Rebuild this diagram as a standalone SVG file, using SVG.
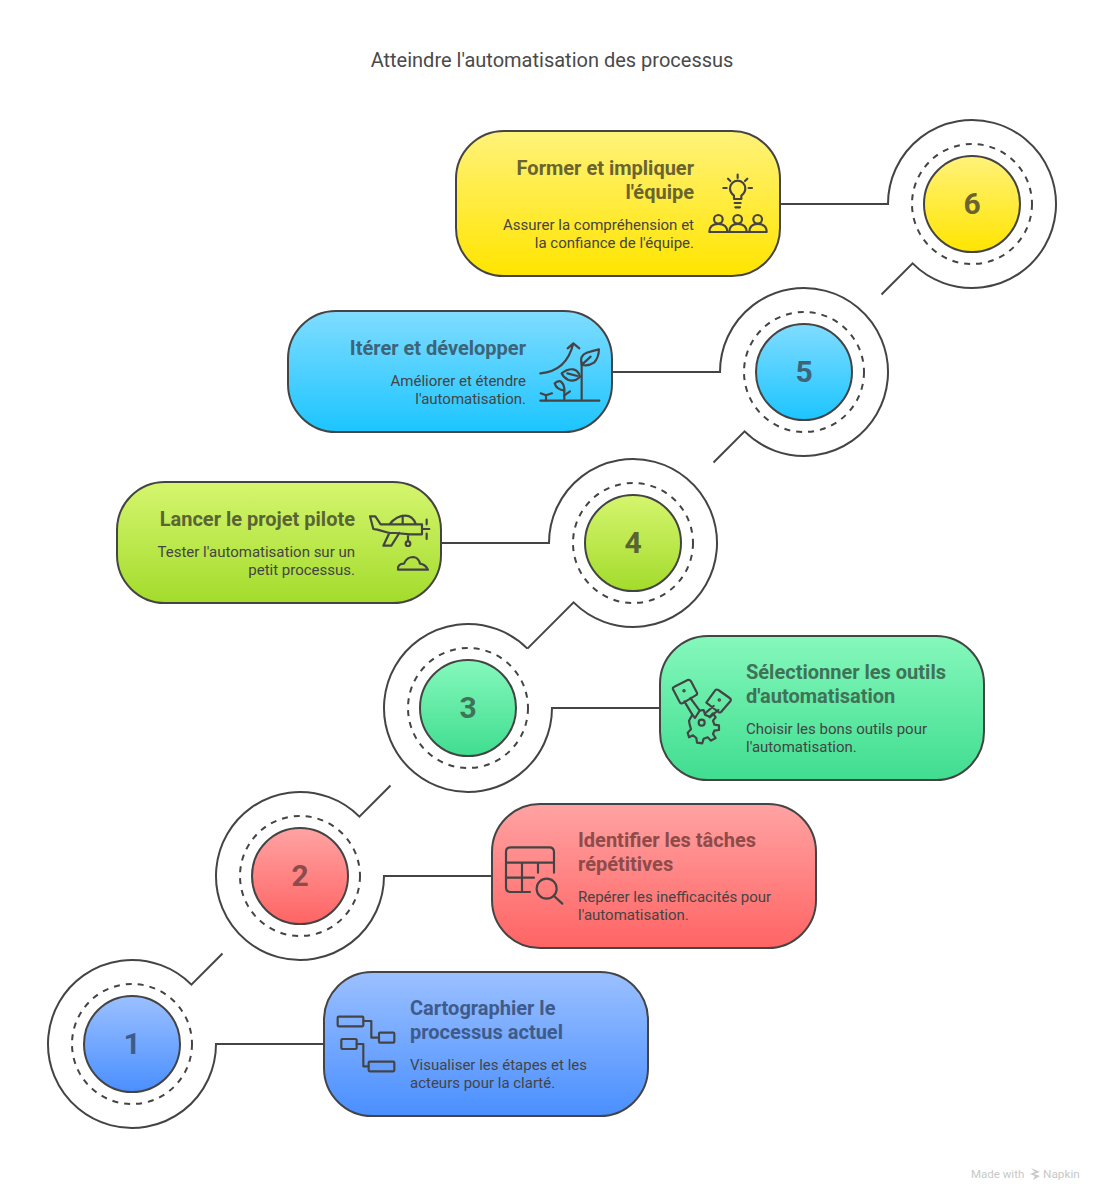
<svg xmlns="http://www.w3.org/2000/svg" width="1104" height="1201" viewBox="0 0 1104 1201">
<style>
text{font-family:Roboto,"Liberation Sans",sans-serif}
.title{font-size:20px;fill:#4a4a4a;text-anchor:middle}
.h{font-size:20px;font-weight:700}
.b{font-size:15px;fill:#444}
.e{text-anchor:end}
.n{font-size:30px;font-weight:700;text-anchor:middle}
.card,.disc{stroke:#444;stroke-width:2}
.line{fill:none;stroke:#444;stroke-width:2}
.dash{fill:none;stroke:#444;stroke-width:2;stroke-dasharray:6 6}
.ic{fill:none;stroke:#444;stroke-width:6.5;stroke-linecap:round;stroke-linejoin:round}
</style>
<defs>
<linearGradient id="g1" x1="0" y1="0" x2="0" y2="1"><stop offset="0" stop-color="#9bc0ff"/><stop offset="1" stop-color="#4a8fff"/></linearGradient>
<linearGradient id="g2" x1="0" y1="0" x2="0" y2="1"><stop offset="0" stop-color="#ffa3a3"/><stop offset="1" stop-color="#ff6464"/></linearGradient>
<linearGradient id="g3" x1="0" y1="0" x2="0" y2="1"><stop offset="0" stop-color="#85f8bb"/><stop offset="1" stop-color="#40dd90"/></linearGradient>
<linearGradient id="g4" x1="0" y1="0" x2="0" y2="1"><stop offset="0" stop-color="#d5f56e"/><stop offset="1" stop-color="#a3dc2c"/></linearGradient>
<linearGradient id="g5" x1="0" y1="0" x2="0" y2="1"><stop offset="0" stop-color="#80dcff"/><stop offset="1" stop-color="#1cc5ff"/></linearGradient>
<linearGradient id="g6" x1="0" y1="0" x2="0" y2="1"><stop offset="0" stop-color="#fff27a"/><stop offset="1" stop-color="#ffe500"/></linearGradient>
</defs>
<rect width="1104" height="1201" fill="#fff"/>
<text class="title" x="552" y="67">Atteindre l'automatisation des processus</text>
<g id="connectors">
<path class="line" d="M780 204H888A84 84 0 1 1 912.6 263.4L881.5 294.5"/>
<path class="line" d="M612 372H720A84 84 0 1 1 744.6 431.4L713.5 462.5"/>
<path class="line" d="M441 543H549A84 84 0 1 1 573.6 602.4L527.4 648.6"/>
<path class="line" d="M660 708H552A84 84 0 1 1 527.4 648.6"/>
<path class="line" d="M492 876H384A84 84 0 1 1 359.4 816.6L390.5 785.5"/>
<path class="line" d="M324 1044H216A84 84 0 1 1 191.4 984.6L222.5 953.5"/>
</g>
<g id="step-1">
<circle class="dash" cx="132" cy="1044" r="60"/><circle class="disc" cx="132" cy="1044" r="48" fill="url(#g1)"/>
<text class="n" x="132" y="1054" fill="#3f5b8a">1</text>
<rect class="card" x="324" y="972" width="324" height="144" rx="48" fill="url(#g1)"/>
<text class="h" fill="#3f5b8a"><tspan x="410" y="1015">Cartographier le</tspan><tspan x="410" y="1039">processus actuel</tspan></text>
<text class="b"><tspan x="410" y="1070">Visualiser les étapes et les</tspan><tspan x="410" y="1088">acteurs pour la clarté.</tspan></text>
<g class="ic" transform="translate(330 1005) scale(.3333)">
<rect x="23" y="35" width="77" height="29" rx="3"/><rect x="147" y="83" width="46" height="30" rx="3"/><rect x="34" y="102" width="46" height="30" rx="3"/><rect x="116" y="170" width="77" height="29" rx="3"/>
<path d="M100 48H124V98H147M80 117H100V184H116"/>
</g>
</g>
<g id="step-2">
<circle class="dash" cx="300" cy="876" r="60"/><circle class="disc" cx="300" cy="876" r="48" fill="url(#g2)"/>
<text class="n" x="300" y="886" fill="#8f4a4a">2</text>
<rect class="card" x="492" y="804" width="324" height="144" rx="48" fill="url(#g2)"/>
<text class="h" fill="#8f4a4a"><tspan x="578" y="847">Identifier les tâches</tspan><tspan x="578" y="871">répétitives</tspan></text>
<text class="b"><tspan x="578" y="902">Repérer les inefficacités pour</tspan><tspan x="578" y="920">l'automatisation.</tspan></text>
<g class="ic" transform="translate(500 840) scale(.3333)">
<path d="M90 156H32Q18 156 18 142V36Q18 22 32 22H148Q162 22 162 36V98M18 68H162M66 68V156M18 113H102M114 68V98"/>
<circle cx="140" cy="146" r="30"/><path d="M162 168L187 191"/>
</g>
</g>
<g id="step-3">
<circle class="dash" cx="468" cy="708" r="60"/><circle class="disc" cx="468" cy="708" r="48" fill="url(#g3)"/>
<text class="n" x="468" y="718" fill="#3f7257">3</text>
<rect class="card" x="660" y="636" width="324" height="144" rx="48" fill="url(#g3)"/>
<text class="h" fill="#3f7257"><tspan x="746" y="679">Sélectionner les outils</tspan><tspan x="746" y="703">d'automatisation</tspan></text>
<text class="b"><tspan x="746" y="734">Choisir les bons outils pour</tspan><tspan x="746" y="752">l'automatisation.</tspan></text>
<g class="ic" transform="translate(665 670) scale(.3333)">
<path d="M24 58Q22 52 28 50L68 30Q74 28 78 34L96 68Q98 74 92 76L52 100Q46 102 44 96ZM58 94L82 134M76 84L104 122M124 98L150 62Q154 56 160 60L194 84Q200 88 196 94L170 124Q166 130 160 126ZM120 130L146 108M134 142L160 120"/>
<circle cx="57" cy="62" r="2"/><circle cx="163" cy="90" r="2"/>
<path d="M82 134L90 144L104 122L116 120L120 134L134 140L144 130L152 142L144 152L148 164L162 166L162 180L148 182L144 192L152 204L138 212L128 202L116 206L112 220L96 218L94 204L84 196L72 202L68 188L78 178L74 164L72 152Z"/>
<circle cx="110" cy="158" r="9"/>
</g>
</g>
<g id="step-4">
<circle class="dash" cx="633" cy="543" r="60"/><circle class="disc" cx="633" cy="543" r="48" fill="url(#g4)"/>
<text class="n" x="633" y="553" fill="#5a6536">4</text>
<rect class="card" x="117" y="482" width="324" height="121" rx="48" fill="url(#g4)"/>
<text class="h e" x="355" y="526" fill="#5a6536">Lancer le projet pilote</text>
<text class="b e"><tspan x="355" y="557">Tester l'automatisation sur un</tspan><tspan x="355" y="575">petit processus.</tspan></text>
<g class="ic" transform="translate(360 505) scale(.3333)">
<path d="M30 34H46L62 58H88Q110 32 136 32Q158 32 168 58H186V88H150L106 84H88L52 74L40 72ZM88 58H168M128 32V58M88 84L70 122H94L118 84M144 88V108"/>
<circle cx="144" cy="116" r="7"/>
<path d="M200 44V58M190 72H208M200 86V102"/>
<path d="M114 194Q112 176 132 176Q140 156 160 156Q176 158 180 176Q196 178 204 194Z"/>
</g>
</g>
<g id="step-5">
<circle class="dash" cx="804" cy="372" r="60"/><circle class="disc" cx="804" cy="372" r="48" fill="url(#g5)"/>
<text class="n" x="804" y="382" fill="#3d6477">5</text>
<rect class="card" x="288" y="311" width="324" height="121" rx="48" fill="url(#g5)"/>
<text class="h e" x="526" y="355" fill="#3d6477">Itérer et développer</text>
<text class="b e"><tspan x="526" y="386">Améliorer et étendre</tspan><tspan x="526" y="404">l'automatisation.</tspan></text>
<g class="ic" transform="translate(530 330) scale(.3333)">
<path d="M31 212H208M155 212V96M103 212V182M31 130Q110 124 130 40M113 55L130 40L148 55"/>
<path d="M155 104Q148 76 170 68Q190 62 207 58Q206 84 192 98Q174 110 155 104ZM160 100L182 80"/>
<path d="M150 140Q135 156 115 150Q100 142 95 130Q112 116 130 118Q146 122 150 140ZM112 130L142 138"/>
<path d="M103 182Q78 178 74 160Q84 152 92 154Q104 164 103 182ZM103 196L120 184M48 212V196L32 190M48 196L66 190"/>
</g>
</g>
<g id="step-6">
<circle class="dash" cx="972" cy="204" r="60"/><circle class="disc" cx="972" cy="204" r="48" fill="url(#g6)"/>
<text class="n" x="972" y="214" fill="#6a6430">6</text>
<rect class="card" x="456" y="131" width="324" height="145" rx="48" fill="url(#g6)"/>
<text class="h e" fill="#6a6430"><tspan x="694" y="175">Former et impliquer</tspan><tspan x="694" y="199">l'équipe</tspan></text>
<text class="b e"><tspan x="694" y="230">Assurer la compréhension et</tspan><tspan x="694" y="248">la confiance de l'équipe.</tspan></text>
<g class="ic" transform="translate(700 170) scale(.3333)">
<path d="M102 87V77Q90 68 90 55A23 23 0 1 1 136 55Q136 68 124 77V87ZM104 99H122M106 112H120M113 14V24M84 26L91 33M142 26L135 33M70 54H80M146 54H156"/>
<circle cx="55" cy="148" r="13"/><circle cx="113" cy="148" r="13"/><circle cx="173" cy="148" r="13"/>
<path d="M28 186Q28 162 55 162Q82 162 82 186M88 186Q88 162 113 162Q140 162 140 186M148 186Q148 162 173 162Q200 162 200 186M28 186H200"/>
</g>
</g>
<g id="credit" fill="#c8c8c8">
<text x="971" y="1178" font-size="11.5" fill="#c8c8c8">Made with</text>
<path d="M1031 1168L1040 1172L1034 1174L1040 1176L1033 1180L1035 1176L1030 1174L1035 1172Z"/>
<text x="1043" y="1178" font-size="11.8" fill="#c8c8c8">Napkin</text>
</g>
</svg>
